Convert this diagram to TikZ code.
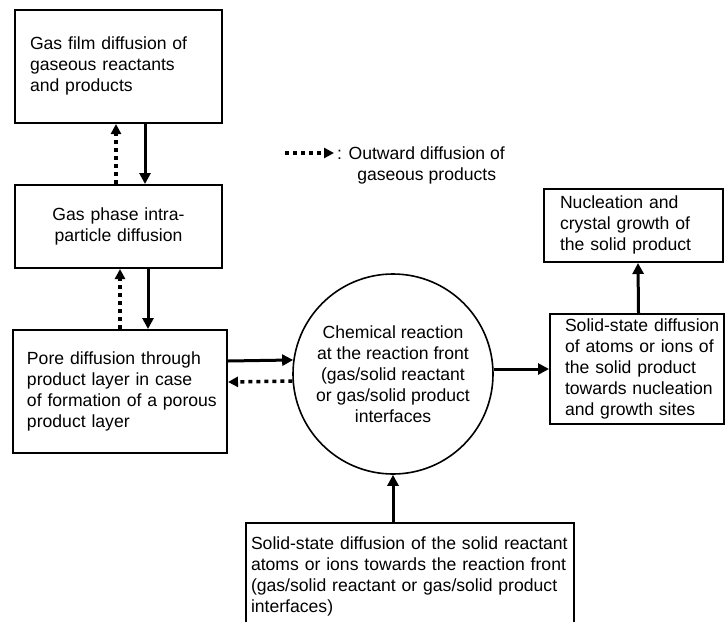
\documentclass[tikz,border=0pt]{standalone}
\usepackage{fontspec}
\setmainfont{Liberation Sans}
\usetikzlibrary{arrows.meta}
\newcommand{\boxlines}[1]{\makebox[0pt][l]{\begin{tabular}{@{}l@{}}#1\end{tabular}}}

\begin{document}
\begin{tikzpicture}[x=1pt,y=-1pt]
\tikzstyle{every node}+=[inner sep=0pt,font=\fontsize{17.6}{21}\selectfont]
\tikzstyle{box}=[draw,line width=2pt,rectangle,anchor=north west,inner xsep=15pt]
\tikzstyle{flow}=[line width=3pt,-{Triangle[length=11pt,width=11pt]}]
\tikzstyle{gasout}=[line width=3.5pt,dash pattern=on 4pt off 4pt,-{Triangle[length=10pt,width=10pt]}]
\clip (0,0) rectangle (725,621);
\node[box,minimum width=207pt,minimum height=113pt,text width=177pt,align=left] (film) at (14,9) {\boxlines{Gas film diffusion of\\gaseous reactants\\and products}};
\node[box,minimum width=207pt,minimum height=83pt,text width=177pt,align=center] (intra) at (14,184) {Gas phase intra-\\particle diffusion};
\node[box,minimum width=214pt,minimum height=123pt,inner xsep=14pt,text width=186pt,align=left] (pore) at (12,329) {\boxlines{Pore diffusion through\\product layer in case\\of formation of a porous\\product layer}};
\node[draw,circle,line width=1.6pt,minimum size=200pt,align=center] (react) at (393,374) {Chemical reaction\\at the reaction front\\(gas/solid reactant\\or gas/solid product\\interfaces};
\node[box,minimum width=174pt,minimum height=110pt,text width=144pt,align=left] (sdp) at (549,313) {\boxlines{Solid-state diffusion\\of atoms or ions of\\the solid product\\towards nucleation\\and growth sites}};
\node[box,minimum width=179pt,minimum height=73pt,inner xsep=16pt,text width=147pt,align=left] (nucl) at (543,188) {\boxlines{Nucleation and\\crystal growth of\\the solid product}};
\node[box,inner xsep=5pt,inner ysep=12pt,text width=318pt,align=left] (sdr) at (245,522) {\boxlines{Solid-state diffusion of the solid reactant\\atoms or ions towards the reaction front\\(gas/solid reactant or gas/solid product\\interfaces)}};
\coordinate (legtail) at (285,153);
\node[anchor=base west] (legtext) at (337,159.5) {: \begin{tabular}[t]{@{}c@{}}Outward diffusion of\\gaseous products\end{tabular}};
\draw[gasout,shorten >=3pt] (legtail) -- (legtail -| legtext.west);
\draw[gasout] ([xshift=-2.5pt]intra.north) -- ([xshift=-2.5pt]film.south);
\draw[flow] ([xshift=26.5pt]film.south) -- ([xshift=26.5pt]intra.north);
\draw[gasout] (pore.north) -- ([xshift=1.5pt]intra.south);
\draw[flow] ([xshift=29.5pt]intra.south) -- ([xshift=28pt]pore.north);
\draw[flow] ([yshift=30.5pt]pore.east) -- (react.172);
\draw[gasout] (react.184) -- ([yshift=9.5pt]pore.east);
\draw[flow] (sdp.west -| react.east) -- (sdp.west);
\draw[flow] ([xshift=1.5pt]sdp.north) -- ([xshift=4.5pt]nucl.south);
\draw[flow] (react.south |- sdr.north) -- (react.south);
\end{tikzpicture}
\end{document}
